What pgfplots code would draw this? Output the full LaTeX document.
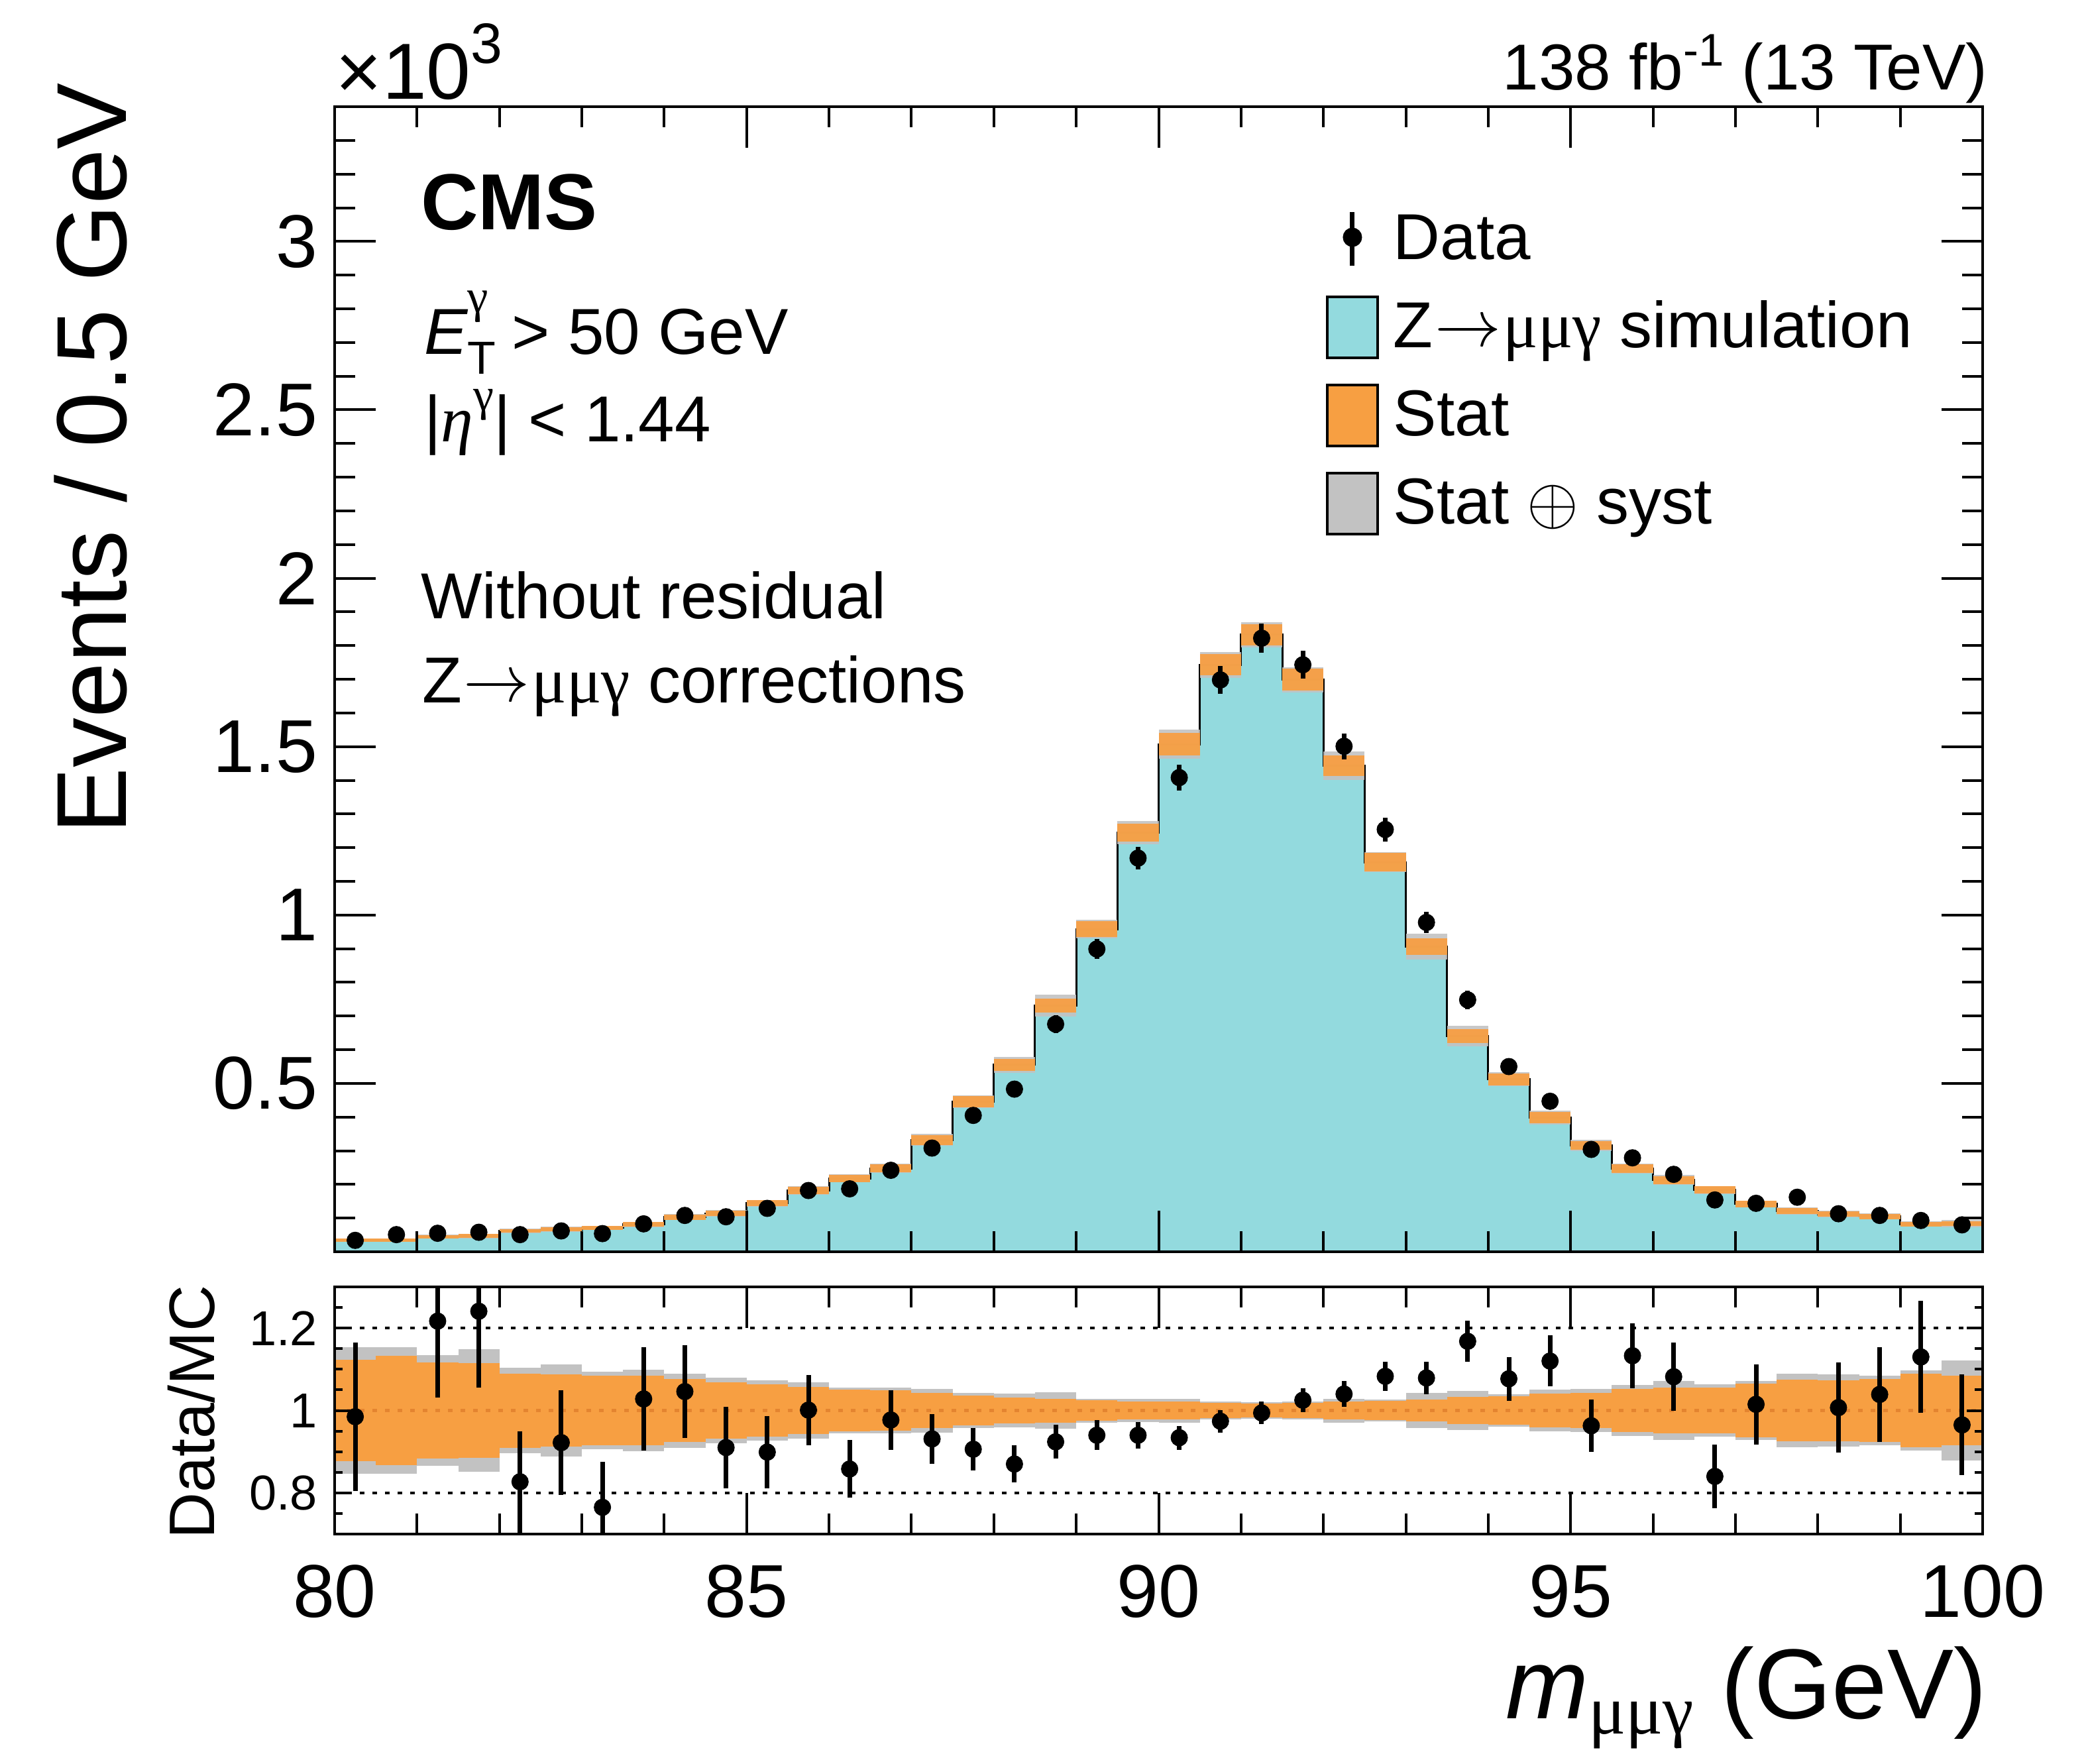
\documentclass[border=0pt]{standalone}
\usepackage{pgfplots}
\pgfplotsset{compat=1.18}
\usepackage{pgfplotstable}
\usepackage{fontspec}
\setmainfont{Liberation Sans}
\newfontfamily\grk{Liberation Serif}
\definecolor{zcyan}{RGB}{147,218,222}
\definecolor{zorange}{RGB}{247,159,66}
\definecolor{zgray}{RGB}{194,194,194}
\definecolor{zdot}{RGB}{228,132,48}
\newcommand{\zarrow}{\kern0.3pt\raisebox{0.2pt}{$\rightarrow$}\kern0.3pt}

% MC histogram: left bin edge, content (x10^3), relative stat and stat+syst half widths
\pgfplotstableread{
x mc st tot
80.0 0.0345 0.123 0.154
80.5 0.035 0.133 0.154
81.0 0.045 0.116 0.135
81.5 0.047 0.115 0.149
82.0 0.062 0.090 0.104
82.5 0.067 0.088 0.112
83.0 0.071 0.084 0.094
83.5 0.081 0.084 0.099
84.0 0.103 0.076 0.090
84.5 0.114 0.069 0.080
85.0 0.144 0.063 0.073
85.5 0.182 0.057 0.069
86.0 0.218 0.050 0.055
86.5 0.248 0.049 0.056
87.0 0.332 0.043 0.053
87.5 0.446 0.036 0.043
88.0 0.555 0.032 0.041
88.5 0.731 0.029 0.044
89.0 0.958 0.025 0.029
89.5 1.245 0.021 0.028
90.0 1.507 0.022 0.029
90.5 1.743 0.018 0.022
91.0 1.832 0.017 0.020
91.5 1.699 0.019 0.022
92.0 1.443 0.021 0.029
92.5 1.157 0.024 0.026
93.0 0.906 0.027 0.042
93.5 0.641 0.033 0.047
94.0 0.512 0.035 0.040
94.5 0.399 0.041 0.051
95.0 0.316 0.043 0.052
95.5 0.247 0.052 0.062
96.0 0.213 0.056 0.071
96.5 0.184 0.056 0.064
97.0 0.142 0.065 0.072
97.5 0.121 0.075 0.089
98.0 0.112 0.074 0.088
98.5 0.105 0.077 0.085
99.0 0.082 0.089 0.098
99.5 0.084 0.084 0.121
100.0 0.084 0.084 0.121
}\mctab

% data: bin centre, events (x10^3), error
\pgfplotstableread{
x y e
80.25 0.034 0.0058
80.75 0.051 0.0071
81.25 0.055 0.0074
81.75 0.058 0.0076
82.25 0.051 0.0071
82.75 0.062 0.0079
83.25 0.054 0.0073
83.75 0.083 0.0091
84.25 0.108 0.0104
84.75 0.104 0.0102
85.25 0.129 0.0114
85.75 0.182 0.0135
86.25 0.187 0.0137
86.75 0.242 0.0156
87.25 0.308 0.0175
87.75 0.405 0.0201
88.25 0.483 0.0220
88.75 0.676 0.0260
89.25 0.899 0.0300
89.75 1.169 0.0342
90.25 1.408 0.0375
90.75 1.698 0.0412
91.25 1.822 0.0427
91.75 1.743 0.0417
92.25 1.501 0.0387
92.75 1.254 0.0354
93.25 0.978 0.0313
93.75 0.748 0.0273
94.25 0.550 0.0235
94.75 0.447 0.0211
95.25 0.304 0.0174
95.75 0.279 0.0167
96.25 0.230 0.0152
96.75 0.154 0.0124
97.25 0.144 0.0120
97.75 0.162 0.0127
98.25 0.113 0.0106
98.75 0.108 0.0104
99.25 0.093 0.0096
99.75 0.080 0.0089
}\datatab

% ratio data/MC (points outside the shown range are not drawn)
\pgfplotstableread{
x r e
80.25 0.985 0.180
81.25 1.217 0.185
81.75 1.241 0.185
82.25 0.827 0.123
82.75 0.922 0.127
83.25 0.765 0.110
83.75 1.028 0.125
84.25 1.046 0.113
84.75 0.910 0.099
85.25 0.899 0.088
85.75 1.001 0.085
86.25 0.858 0.070
86.75 0.977 0.072
87.25 0.931 0.060
87.75 0.906 0.052
88.25 0.870 0.045
88.75 0.924 0.041
89.25 0.940 0.036
89.75 0.940 0.032
90.25 0.934 0.029
90.75 0.974 0.027
91.25 0.994 0.027
91.75 1.025 0.029
92.25 1.040 0.031
92.75 1.083 0.036
93.25 1.079 0.040
93.75 1.168 0.050
94.25 1.077 0.053
94.75 1.120 0.062
95.25 0.963 0.063
95.75 1.133 0.079
96.25 1.082 0.083
96.75 0.840 0.077
97.25 1.015 0.097
98.25 1.007 0.109
98.75 1.039 0.115
99.25 1.130 0.136
99.75 0.965 0.122
}\ratiotab

\pgfplotsset{
  cmsframe/.style={
    scale only axis, width=248.7pt,
    xmin=80, xmax=100,
    axis on top,
    axis line style={line width=0.4pt},
    every tick/.style={black, line width=0.4pt},
    tick align=inside, tick pos=both, ticklabel pos=left,
    scaled ticks=false,
  },
  % a band of one bin width (40 bins over 248.7pt), drawn as a wide error bar
  bandbar/.style={draw=none, mark=none, forget plot,
    error bars/.cd, y dir=both, y explicit, error mark=none,
    error bar style={line width=6.2175pt, draw=#1, line cap=butt}},
  datapts/.style={only marks, mark=*, mark size=1.25pt, black,
    mark options={line width=0.1pt, fill=black}, forget plot,
    error bars/.cd, y dir=both, y explicit, error mark=none,
    error bar style={line width=0.7pt, black}},
}

\begin{document}
\begin{tikzpicture}
\useasboundingbox (-50.5pt,-77.2pt) rectangle (264.6pt,188.9pt);

% ---------------- main panel ----------------
\begin{axis}[cmsframe,
  at={(0pt,0pt)}, anchor=south west, height=172.8pt,
  ymin=0, ymax=3.4,
  major tick length=6.2pt, minor tick length=3.1pt,
  xtick={80,85,90,95,100},
  xticklabels={,,,,},
  minor xtick={81,82,83,84,86,87,88,89,91,92,93,94,96,97,98,99},
  ytick={0.5,1,1.5,2,2.5,3},
  yticklabels={0.5,1,1.5,2,2.5,3},
  minor ytick={0.1,0.2,0.3,0.4,0.6,0.7,0.8,0.9,1.1,1.2,1.3,1.4,1.6,1.7,1.8,1.9,2.1,2.2,2.3,2.4,2.6,2.7,2.8,2.9,3.1,3.2,3.3},
  yticklabel style={font=\fontsize{11.3}{13}\selectfont, inner sep=0pt, xshift=-2.4pt},
  legend style={at={(0.6015,0.9132)}, anchor=north west,
    draw=none, fill=none, inner sep=0pt, outer sep=0pt,
    row sep=2.8pt, column sep=2.2pt,
    font=\fontsize{9.8}{12}\selectfont,
    nodes={inner sep=0pt, text height=8pt, text depth=2.5pt},
    cells={anchor=base west}},
]
\addlegendimage{legend image code/.code={
  \draw[black, line width=0.7pt] (3.8pt,-1.0pt) -- (3.8pt,7.1pt);
  \fill[black] (3.8pt,3.3pt) circle (1.25pt);}}
\addlegendentry{Data}
\addlegendimage{legend image code/.code={
  \draw[black, line width=0.4pt, fill=zcyan] (0pt,-1.6pt) rectangle (7.6pt,7.6pt);}}
\addlegendentry{Z\zarrow{\grk μμγ} simulation}
\addlegendimage{legend image code/.code={
  \draw[black, line width=0.4pt, fill=zorange] (0pt,-1.6pt) rectangle (7.6pt,7.6pt);}}
\addlegendentry{Stat}
\addlegendimage{legend image code/.code={
  \draw[black, line width=0.4pt, fill=zgray] (0pt,-1.6pt) rectangle (7.6pt,7.6pt);}}
\addlegendentry{Stat $\oplus$ syst}

\addplot[const plot, fill=zcyan, draw=black, line width=0.3pt, forget plot]
  table[x=x, y=mc] {\mctab} \closedcycle;

\addplot[bandbar=zgray, error bar style={draw opacity=0.9}]
  table[x expr={\thisrow{x}+0.25}, y=mc, y error expr={\thisrow{mc}*\thisrow{tot}}] {\mctab};
\addplot[bandbar=zorange, error bar style={draw opacity=0.94}]
  table[x expr={\thisrow{x}+0.25}, y=mc, y error expr={\thisrow{mc}*\thisrow{st}}] {\mctab};

\addplot[datapts] table[x=x, y=y, y error=e] {\datatab};
\end{axis}

% ---------------- ratio panel: data, bands and x ticks ----------------
\begin{axis}[cmsframe,
  at={(0pt,-5.3pt)}, anchor=north west, height=37.3pt,
  ymin=0.7, ymax=1.3,
  major tick length=6.2pt, minor tick length=3.1pt,
  xtick={80,85,90,95,100},
  xticklabels={80,85,90,95,100},
  minor xtick={81,82,83,84,86,87,88,89,91,92,93,94,96,97,98,99},
  xticklabel style={font=\fontsize{11.3}{13}\selectfont, inner sep=0pt, yshift=-4.5pt},
  ytick=\empty,
]
\addplot[bandbar=zgray]
  table[x expr={\thisrow{x}+0.25}, y expr={1}, y error=tot] {\mctab};
\addplot[bandbar=zorange]
  table[x expr={\thisrow{x}+0.25}, y expr={1}, y error=st] {\mctab};

\addplot[black, line width=0.45pt, dash pattern=on 0.7pt off 1.2pt, forget plot]
  coordinates {(80,1.2) (100,1.2)};
\addplot[black, line width=0.45pt, dash pattern=on 0.7pt off 1.2pt, forget plot]
  coordinates {(80,0.8) (100,0.8)};
\addplot[zdot, line width=0.45pt, dash pattern=on 0.7pt off 1.2pt, forget plot]
  coordinates {(80,1.0) (100,1.0)};

\addplot[datapts] table[x=x, y=r, y error=e] {\ratiotab};
\end{axis}

% ---------------- ratio panel: short y ticks ----------------
\begin{axis}[cmsframe,
  at={(0pt,-5.3pt)}, anchor=north west, height=37.3pt,
  ymin=0.7, ymax=1.3,
  major tick length=2.4pt, minor tick length=1.2pt,
  xtick=\empty,
  ytick={0.8,1,1.2},
  yticklabels={0.8,1,1.2},
  minor ytick={0.75,0.85,0.9,0.95,1.05,1.1,1.15,1.25},
  yticklabel style={font=\fontsize{7.4}{9}\selectfont, inner sep=0pt, xshift=-2.4pt},
]
\addplot[draw=none, forget plot] coordinates {(80,1) (100,1)};
\end{axis}

% ---------------- texts ----------------
\node[anchor=base west, inner sep=0pt, font=\fontsize{12}{14}\selectfont] at (0pt,174.0pt)
  {×10\raisebox{5.4pt}{\fontsize{8.6}{10}\selectfont 3}};
\node[anchor=base east, inner sep=0pt, font=\fontsize{9.8}{12}\selectfont] at (249.6pt,175.4pt)
  {138 fb\raisebox{3.6pt}{\fontsize{6.9}{8}\selectfont -1} (13 TeV)};
\node[anchor=base west, inner sep=0pt, font=\fontsize{12}{14}\selectfont\bfseries] at (12.8pt,154.3pt) {CMS};
\node[anchor=base west, inner sep=0pt, font=\fontsize{9.8}{12}\selectfont] at (13.3pt,135.5pt)
  {{\itshape E}\rlap{\raisebox{-3.0pt}{\fontsize{7}{8}\selectfont T}}\raisebox{6.25pt}{\fontsize{7.1}{8}\selectfont\grk γ}\kern0.9pt{} > 50 GeV};
\node[anchor=base west, inner sep=0pt, font=\fontsize{9.8}{12}\selectfont] at (13.3pt,122.3pt)
  {|{\grk\itshape η}\raisebox{4.7pt}{\fontsize{7}{8}\selectfont\grk γ}| < 1.44};
\node[anchor=base west, inner sep=0pt, font=\fontsize{9.8}{12}\selectfont] at (12.8pt,95.6pt) {Without residual};
\node[anchor=base west, inner sep=0pt, font=\fontsize{9.8}{12}\selectfont] at (13.0pt,82.9pt) {Z\zarrow{\grk μμγ} corrections};

\node[rotate=90, anchor=base east, inner sep=0pt, font=\fontsize{15}{18}\selectfont] at (-31.4pt,176.6pt) {Events / 0.5 GeV};
\node[rotate=90, anchor=base, inner sep=0pt, font=\fontsize{9.7}{12}\selectfont] at (-18.1pt,-24.2pt) {Data/MC};
\node[anchor=base east, inner sep=0pt, font=\fontsize{15}{18}\selectfont] at (249.5pt,-70.4pt)
  {{\itshape m}\raisebox{-2.3pt}{\fontsize{10.5}{12}\selectfont\grk μμγ} (GeV)};
\end{tikzpicture}
\end{document}
